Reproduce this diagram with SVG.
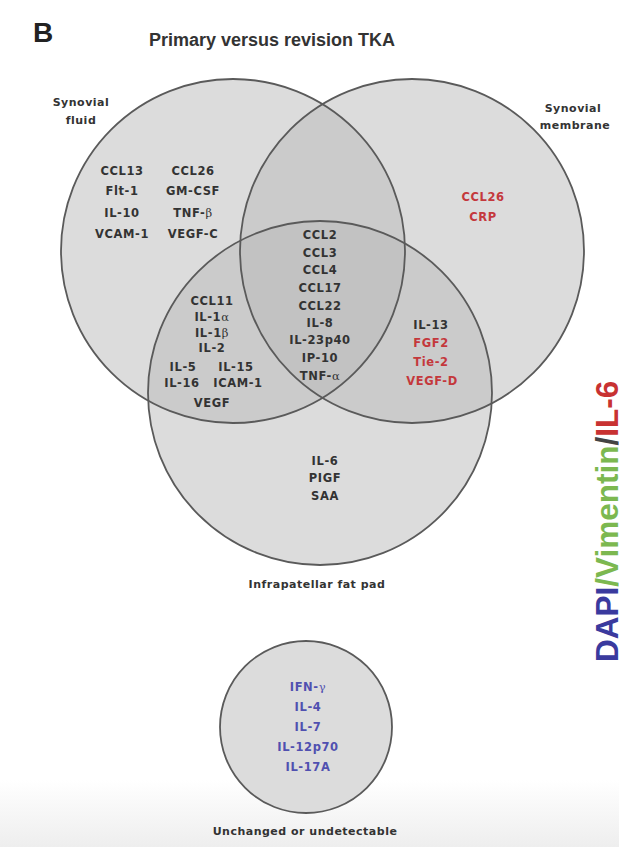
<svg xmlns="http://www.w3.org/2000/svg" width="619" height="847" viewBox="0 0 619 847">
<defs>
<linearGradient id="bg" x1="0" y1="0" x2="0" y2="1">
<stop offset="0" stop-color="#ffffff"/>
<stop offset="1" stop-color="#eeeeee"/>
</linearGradient>
<style>
.set{fill:#b9b9b9;fill-opacity:0.5;stroke:none}
.ring{fill:none;stroke:#5a5a5a;stroke-width:1.8}
text{font-family:"DejaVu Sans","Liberation Sans",sans-serif;font-weight:bold;text-anchor:middle}
.c{font-size:11.5px;letter-spacing:0.6px;fill:#333333}
.r{fill:#c4383c}
.b{fill:#5050b0}
.lbl{font-size:11px;letter-spacing:0.5px;fill:#333333}
.g{font-weight:normal;font-family:"DejaVu Serif","Liberation Serif",serif}
</style>
</defs>
<rect x="0" y="0" width="619" height="847" fill="#ffffff"/>
<rect x="0" y="780" width="619" height="67" fill="url(#bg)"/>

<text x="43" y="42" style="font-family:'Liberation Sans',Arial,sans-serif;font-size:28px;fill:#222222">B</text>
<text x="272" y="46" style="font-family:'Liberation Sans',Arial,sans-serif;font-size:18px;fill:#333333">Primary versus revision TKA</text>

<g id="venn-fills">
<circle class="set" cx="233" cy="251" r="172"/>
<circle class="set" cx="412" cy="251" r="172"/>
<circle class="set" cx="320" cy="393" r="172"/>
</g>
<g id="venn-rings">
<circle class="ring" cx="233" cy="251" r="172"/>
<circle class="ring" cx="412" cy="251" r="172"/>
<circle class="ring" cx="320" cy="393" r="172"/>
</g>
<g id="connectors"/>

<g id="synovial-fluid">
<text class="lbl" x="81" y="106">Synovial</text>
<text class="lbl" x="81" y="124">fluid</text>
<text class="c" x="122" y="175">CCL13</text>
<text class="c" x="122" y="195">Flt-1</text>
<text class="c" x="122" y="217">IL-10</text>
<text class="c" x="122" y="238">VCAM-1</text>
<text class="c" x="193" y="175">CCL26</text>
<text class="c" x="193" y="195">GM-CSF</text>
<text class="c" x="193" y="217">TNF-<tspan class="g">β</tspan></text>
<text class="c" x="193" y="238">VEGF-C</text>
</g>

<g id="synovial-membrane">
<text class="lbl" x="573" y="112">Synovial</text>
<text class="lbl" x="575" y="129">membrane</text>
<text class="c r" x="483" y="201">CCL26</text>
<text class="c r" x="483" y="221">CRP</text>
</g>

<g id="infrapatellar-fat-pad">
<text class="lbl" x="317" y="588">Infrapatellar fat pad</text>
<text class="c" x="325" y="465">IL-6</text>
<text class="c" x="325" y="482">PIGF</text>
<text class="c" x="325" y="500">SAA</text>
</g>

<g id="all-three">
<text class="c" x="320" y="239">CCL2</text>
<text class="c" x="320" y="257">CCL3</text>
<text class="c" x="320" y="274">CCL4</text>
<text class="c" x="320" y="292">CCL17</text>
<text class="c" x="320" y="310">CCL22</text>
<text class="c" x="320" y="327">IL-8</text>
<text class="c" x="320" y="344">IL-23p40</text>
<text class="c" x="320" y="362">IP-10</text>
<text class="c" x="320" y="380">TNF-<tspan class="g">α</tspan></text>
</g>

<g id="fluid-and-fatpad">
<text class="c" x="212" y="305">CCL11</text>
<text class="c" x="212" y="321">IL-1<tspan class="g">α</tspan></text>
<text class="c" x="212" y="337">IL-1<tspan class="g">β</tspan></text>
<text class="c" x="212" y="352">IL-2</text>
<text class="c" x="183" y="371">IL-5</text>
<text class="c" x="236" y="371">IL-15</text>
<text class="c" x="182" y="387">IL-16</text>
<text class="c" x="238" y="387">ICAM-1</text>
<text class="c" x="212" y="407">VEGF</text>
</g>

<g id="membrane-and-fatpad">
<text class="c" x="431" y="329">IL-13</text>
<text class="c r" x="431" y="347">FGF2</text>
<text class="c r" x="431" y="366">Tie-2</text>
<text class="c r" x="432" y="385">VEGF-D</text>
</g>

<g id="unchanged">
<circle cx="306" cy="727" r="86" fill="#dcdcdc" stroke="#5a5a5a" stroke-width="1.8"/>
<text class="c b" x="308" y="691">IFN-<tspan class="g">γ</tspan></text>
<text class="c b" x="308" y="711">IL-4</text>
<text class="c b" x="308" y="731">IL-7</text>
<text class="c b" x="308" y="751">IL-12p70</text>
<text class="c b" x="308" y="771">IL-17A</text>
<text class="lbl" x="305" y="835">Unchanged or undetectable</text>
</g>

<text transform="translate(618,662) rotate(-90)" style="font-family:'Liberation Sans',Arial,sans-serif;font-size:31.5px;text-anchor:start"><tspan fill="#3a3a9e">DAPI</tspan><tspan fill="#7cb850">/Vimentin</tspan><tspan fill="#444444">/</tspan><tspan fill="#c83232">IL-6</tspan></text>
</svg>
